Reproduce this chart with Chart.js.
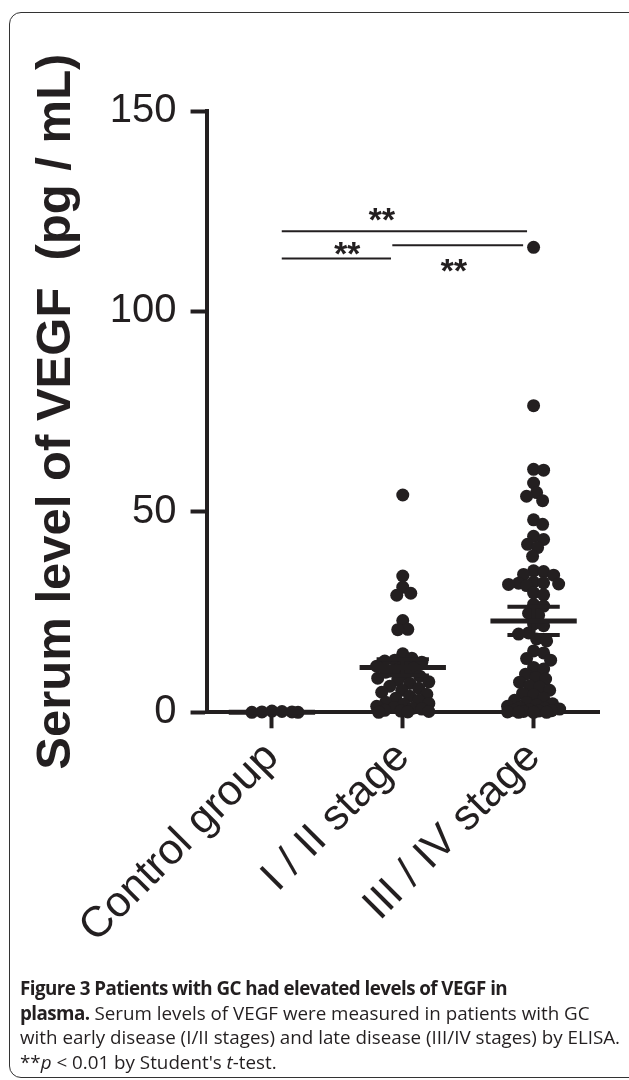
<!DOCTYPE html>
<html>
<head>
<meta charset="utf-8">
<script src="https://cdn.jsdelivr.net/npm/chart.js@4.4.0/dist/chart.umd.min.js"></script>
<style>
  html, body { margin: 0; padding: 0; background: #fff; }
  body { width: 629px; height: 1080px; position: relative; overflow: hidden; }
  #frame { position: absolute; left: 9px; top: 12px; width: 680px; height: 1064px; border: 1.5px solid #333; border-radius: 12px; }
  #wrap { position: absolute; left: 0; top: 0; width: 629px; height: 990px; }
  #caption { position: absolute; left: 20px; top: 976px; font-family: "Open Sans", sans-serif; font-size: 18.8px; line-height: 24.5px; color: #231f20; white-space: nowrap; }
  #caption b { letter-spacing: -0.55px; }
</style>
</head>
<body>
<div id="frame"></div>
<div id="wrap"><canvas id="chart" width="629" height="990"></canvas></div>
<div id="caption"><b>Figure 3 Patients with GC had elevated levels of VEGF in</b><br><b>plasma.</b> Serum levels of VEGF were measured in patients with GC<br>with early disease (I/II stages) and late disease (III/IV stages) by ELISA.<br>**<i>p</i> &lt; 0.01 by Student's <i>t</i>-test.</div>
<script>
// groups and values (pg/mL)
const groups = ['Control group', 'I / II stage', 'III / IV stage'];
const controlValues = [0.3, 0.1, 0, 0.2, 0, 0.1];
const earlyValues = [54.2, 34.0, 31.2, 29.7, 29.2, 22.9, 20.7, 20.6, 14.6, 13.5, 13.0, 12.8, 12.5, 12.0,
  11.5, 11.0, 10.5, 10.0, 9.5, 9.0, 8.5, 8.0, 7.6, 7.2, 6.5, 6.0, 5.5, 5.0, 4.5, 4.0, 3.5, 3.0,
  2.5, 2.2, 2.0, 1.5, 1.2, 1.0, 0.8, 0.5, 0.3, 0.2, 0.1, 0.0];
const lateValues = [116, 76.5, 60.6, 60.4, 57.2, 54.8, 53.9, 52.8, 48.0, 46.9, 43.9, 43.1, 41.9, 41.1,
  38.9, 35.3, 35.1, 34.4, 34.2, 32.5, 32.3, 32.2, 32.0, 31.9, 31.6, 29.8, 29.3, 26.9, 26.5, 24.7,
  24.2, 22.0, 21.6, 19.8, 19.5, 18.3, 17.8, 15.3, 14.8, 13.4, 13.0, 11.2, 10.8, 9.5, 8.7, 8.3,
  7.5, 6.6, 6.3, 5.5, 4.7, 4.3, 3.5, 3.0, 2.4, 2.1, 1.8, 1.5, 1.2, 1.0, 0.8, 0.6, 0.5, 0.4, 0.3,
  0.2, 0.1, 0.0, 0.0, 0.0];
const groupMeans = [0, 11.2, 22.8];
const groupSem = [0, 2.0, 3.5];
const yTicks = [0, 50, 100, 150];

// significance brackets (x in group units, y in pg/mL)
const brackets = [
  { from: 1.075, to: 2.95, y: 120.0, textX: 1.83, textY: 125.0 },
  { from: 1.075, to: 1.91, y: 113.2, textX: 1.565, textY: 116.3 },
  { from: 1.92, to: 2.92, y: 116.5, textX: 2.38, textY: 112.2 }
];

const INK = '#231f20';
const FONT = '"Liberation Sans", Arial, Helvetica, sans-serif';

// beeswarm: closest free slot to the centre, limited width, overlap when crowded
const PX_PER_X = 130.5, PX_PER_Y = 4.0, MIN_DIST = 10, MAX_OFF = 26;
function swarm(values, center) {
  const placed = [];
  const out = new Array(values.length);
  const order = values.map((v, i) => i).sort((a, b) => values[b] - values[a]);
  order.forEach(i => {
    const yp = values[i] * PX_PER_Y;
    let best = 0, bestDist = -1;
    for (let k = 0; k <= 2 * MAX_OFF; k++) {
      const off = (k % 2 ? 1 : -1) * Math.ceil(k / 2);
      const d = placed.reduce((m, p) => Math.min(m, Math.hypot(p.x - off, p.y - yp)), Infinity);
      if (d >= MIN_DIST) { best = off; break; }
      if (d > bestDist) { bestDist = d; best = off; }
    }
    placed.push({ x: best, y: yp });
    out[i] = { x: center + best / PX_PER_X, y: values[i] };
  });
  return out;
}

const statsPlugin = {
  id: 'stats',
  afterDatasetsDraw(chart) {
    const { ctx, scales: { x, y } } = chart;
    ctx.save();
    ctx.strokeStyle = INK;
    groupMeans.forEach((m, i) => {
      const c = i + 1;
      const ym = y.getPixelForValue(m);
      const yHi = y.getPixelForValue(m + groupSem[i]);
      const yLo = y.getPixelForValue(m - groupSem[i]);
      ctx.lineWidth = 4;
      ctx.beginPath();
      ctx.moveTo(x.getPixelForValue(c), yHi);
      ctx.lineTo(x.getPixelForValue(c), yLo);
      [yHi, yLo].forEach(yy => {
        ctx.moveTo(x.getPixelForValue(c - 0.2), yy);
        ctx.lineTo(x.getPixelForValue(c + 0.2), yy);
      });
      ctx.stroke();
      ctx.lineWidth = 5;
      ctx.beginPath();
      ctx.moveTo(x.getPixelForValue(c - 0.33), ym);
      ctx.lineTo(x.getPixelForValue(c + 0.33), ym);
      ctx.stroke();
    });
    ctx.lineWidth = 2;
    ctx.fillStyle = INK;
    ctx.font = 'italic bold 34px ' + FONT;
    ctx.textAlign = 'center';
    ctx.textBaseline = 'alphabetic';
    brackets.forEach(b => {
      const yy = y.getPixelForValue(b.y);
      ctx.beginPath();
      ctx.moveTo(x.getPixelForValue(b.from), yy);
      ctx.lineTo(x.getPixelForValue(b.to), yy);
      ctx.stroke();
      ctx.fillText('**', x.getPixelForValue(b.textX), y.getPixelForValue(b.textY) + 34 * 0.57);
    });
    ctx.restore();
  }
};

const axisGrid = { display: true, drawOnChartArea: false, drawTicks: true, tickLength: 16, tickWidth: 4, tickColor: INK };
const axisBorder = { display: true, width: 4, color: INK };

new Chart(document.getElementById('chart'), {
  type: 'scatter',
  data: {
    datasets: [controlValues, earlyValues, lateValues].map((vals, i) => ({
      label: groups[i],
      data: swarm(vals, i + 1),
      backgroundColor: INK,
      borderWidth: 0,
      pointRadius: 6.5,
      clip: false
    }))
  },
  options: {
    responsive: false,
    animation: false,
    layout: { padding: { left: 20, right: 30, top: 111, bottom: 33 } },
    plugins: { legend: { display: false }, tooltip: { enabled: false } },
    scales: {
      x: {
        type: 'linear',
        min: 0.5,
        max: 3.5,
        afterBuildTicks: axis => { axis.ticks = groups.map((g, i) => ({ value: i + 1 })); },
        ticks: {
          autoSkip: false,
          minRotation: 45,
          maxRotation: 45,
          padding: 4,
          color: INK,
          font: { family: FONT, size: 43 },
          callback: (v, i) => groups[i]
        },
        grid: axisGrid,
        border: axisBorder
      },
      y: {
        min: 0,
        max: 150,
        afterBuildTicks: axis => { axis.ticks = yTicks.map(v => ({ value: v })); },
        ticks: { padding: 14, color: INK, font: { family: FONT, size: 40 } },
        grid: axisGrid,
        border: axisBorder,
        title: {
          display: true,
          text: 'Serum level of VEGF  (pg / mL)',
          color: INK,
          font: { family: FONT, size: 49, weight: 'bold' },
          padding: { top: 7, bottom: 10 }
        }
      }
    }
  },
  plugins: [statsPlugin]
});
</script>
</body>
</html>
